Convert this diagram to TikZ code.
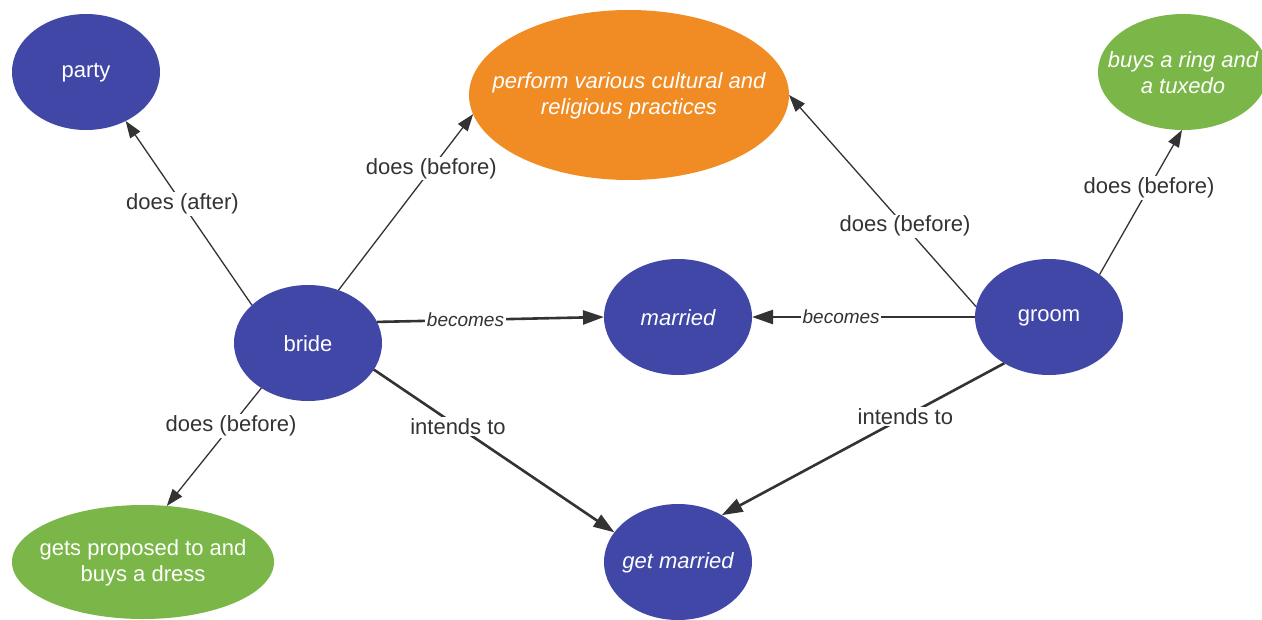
\documentclass[tikz,border=0pt]{standalone}
\usepackage{fontspec}
\setmainfont{Liberation Sans}
\usetikzlibrary{arrows.meta, shapes.geometric}
\definecolor{ideablue}{RGB}{65,71,167}
\definecolor{ideaorange}{RGB}{240,140,35}
\definecolor{ideagreen}{RGB}{122,182,72}
\definecolor{inkgray}{RGB}{51,51,51}
\tikzset{
  blob/.style={ellipse, inner sep=0pt, outer sep=0pt, minimum width=148pt, minimum height=116pt, fill=ideablue},
  words/.style={text=white, align=center, yshift=-1pt, font=\fontsize{22}{26}\selectfont},
  slant/.style={words, font=\fontsize{22}{26}\selectfont\itshape},
  pto/.style={-{Triangle[length=17pt,width=12pt]}, line width=1.3pt, inkgray},
  boldpto/.style={-{Triangle[length=21pt,width=14pt]}, line width=2.6pt, inkgray},
  lbl/.style={fill=white, inner sep=1.5pt, text=inkgray, font=\fontsize{22}{26}\selectfont},
  lblit/.style={lbl, font=\fontsize{19}{22}\selectfont\itshape}
}

\begin{document}
\begin{tikzpicture}[x=1pt, y=-1pt]
  \useasboundingbox (0,0) rectangle (1262,619);
  \clip (0,0) rectangle (1262,619);

  % concepts
  \node[blob, label={[words]center:party}] (party) at (86,72) {};
  \node[blob, fill=ideaorange, minimum width=320pt, minimum height=170pt,
        label={[slant]center:{perform various cultural and\\religious practices}}] (rites) at (629,95) {};
  \node[blob, fill=ideagreen, minimum width=170pt,
        label={[slant]center:{buys a ring and\\a tuxedo}}] (ring) at (1183,72) {};
  \node[blob, label={[words]center:bride}] (bride) at (308,343) {};
  \node[blob, label={[slant]center:married}] (married) at (678,317) {};
  \node[blob, label={[words]center:groom}] (groom) at (1049,317) {};
  \node[blob, fill=ideagreen, minimum width=262pt, minimum height=114pt,
        label={[words]center:{gets proposed to and\\buys a dress}}] (dress) at (143,562) {};
  \node[blob, label={[slant]center:get married}] (wed) at (678,562) {};

  % relations
  \path
    (bride.146) edge[pto] node[lbl, pos=0.55] {does (after)} (party.309)
    (bride.60) edge[pto] node[lbl, pos=0.69] {does (before)} (rites.187)
    (bride.17) edge[boldpto] node[lblit, pos=0.39] {becomes} (married.180)
    (bride.224) edge[pto] node[lbl, pos=0.32] {does (before)} (dress.67)
    (bride.-22) edge[boldpto] node[lbl, pos=0.35] {intends to} (wed.155)
    (groom.172) edge[pto] node[lbl, pos=0.38] {does (before)} (rites.0)
    (groom.40) edge[pto] node[lbl, pos=0.60] {does (before)} (ring.269)
    (groom.180) edge[boldpto] node[lblit, pos=0.60] {becomes} (married.0)
    (groom.226) edge[boldpto] node[lbl, pos=0.35] {intends to} (wed.47)
  ;
\end{tikzpicture}
\end{document}
